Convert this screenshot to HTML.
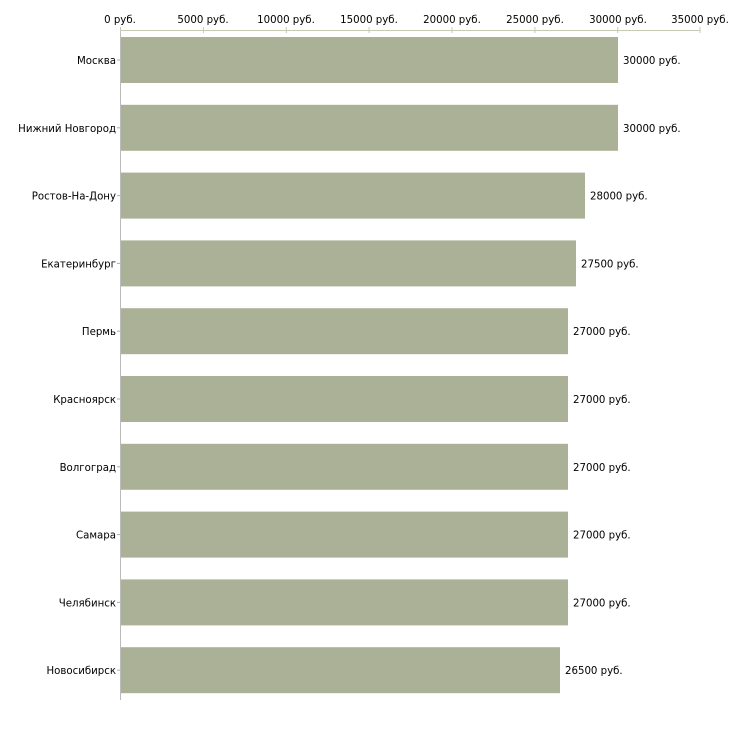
<!DOCTYPE html>
<html><head><meta charset="utf-8"><style>html,body{margin:0;padding:0;background:#fff}svg{display:block}text{font-family:"DejaVu Sans","Liberation Sans",sans-serif;font-size:10.2px;fill:#000}</style></head><body>
<svg width="730" height="730" xmlns="http://www.w3.org/2000/svg">
<line x1="120" y1="30.5" x2="700" y2="30.5" stroke="#c8c8b4" stroke-width="1"/>
<line x1="120.5" y1="30" x2="120.5" y2="700" stroke="#bbb" stroke-width="1"/>
<g stroke="#c8c8b4">
<line x1="120.5" y1="27" x2="120.5" y2="33"/><line x1="203.4" y1="27" x2="203.4" y2="33"/><line x1="286.3" y1="27" x2="286.3" y2="33"/><line x1="369.1" y1="27" x2="369.1" y2="33"/><line x1="452" y1="27" x2="452" y2="33"/><line x1="534.9" y1="27" x2="534.9" y2="33"/><line x1="617.7" y1="27" x2="617.7" y2="33"/><line x1="700" y1="27" x2="700" y2="33"/>
</g>
<g text-anchor="middle">
<text x="120" y="23">0 руб.</text><text x="203" y="23">5000 руб.</text><text x="286" y="23">10000 руб.</text><text x="369" y="23">15000 руб.</text><text x="452" y="23">20000 руб.</text><text x="535" y="23">25000 руб.</text><text x="618" y="23">30000 руб.</text><text x="700" y="23">35000 руб.</text>
</g>
<g fill="#abb197">
<rect x="121" y="37" width="497" height="46"/>
<rect x="121" y="104.8" width="497" height="46"/>
<rect x="121" y="172.6" width="464" height="46"/>
<rect x="121" y="240.4" width="455" height="46"/>
<rect x="121" y="308.2" width="447" height="46"/>
<rect x="121" y="376" width="447" height="46"/>
<rect x="121" y="443.8" width="447" height="46"/>
<rect x="121" y="511.6" width="447" height="46"/>
<rect x="121" y="579.4" width="447" height="46"/>
<rect x="121" y="647.2" width="439" height="46"/>
</g>
<g text-anchor="end">
<text x="116" y="64">Москва</text><text x="116" y="131.8">Нижний Новгород</text><text x="116" y="199.6">Ростов-На-Дону</text><text x="116" y="267.4">Екатеринбург</text><text x="116" y="335.2">Пермь</text><text x="116" y="403">Красноярск</text><text x="116" y="470.8">Волгоград</text><text x="116" y="538.6">Самара</text><text x="116" y="606.4">Челябинск</text><text x="116" y="674.2">Новосибирск</text>
</g>
<g stroke="#abb197"><line x1="117" y1="60" x2="120" y2="60"/><line x1="117" y1="127.8" x2="120" y2="127.8"/><line x1="117" y1="195.6" x2="120" y2="195.6"/><line x1="117" y1="263.4" x2="120" y2="263.4"/><line x1="117" y1="331.2" x2="120" y2="331.2"/><line x1="117" y1="399" x2="120" y2="399"/><line x1="117" y1="466.8" x2="120" y2="466.8"/><line x1="117" y1="534.6" x2="120" y2="534.6"/><line x1="117" y1="602.4" x2="120" y2="602.4"/><line x1="117" y1="670.2" x2="120" y2="670.2"/></g>
<g>
<text x="623" y="64">30000 руб.</text><text x="623" y="131.8">30000 руб.</text><text x="590" y="199.6">28000 руб.</text><text x="581" y="267.4">27500 руб.</text><text x="573" y="335.2">27000 руб.</text><text x="573" y="403">27000 руб.</text><text x="573" y="470.8">27000 руб.</text><text x="573" y="538.6">27000 руб.</text><text x="573" y="606.4">27000 руб.</text><text x="565" y="674.2">26500 руб.</text>
</g>
</svg>
</body></html>
